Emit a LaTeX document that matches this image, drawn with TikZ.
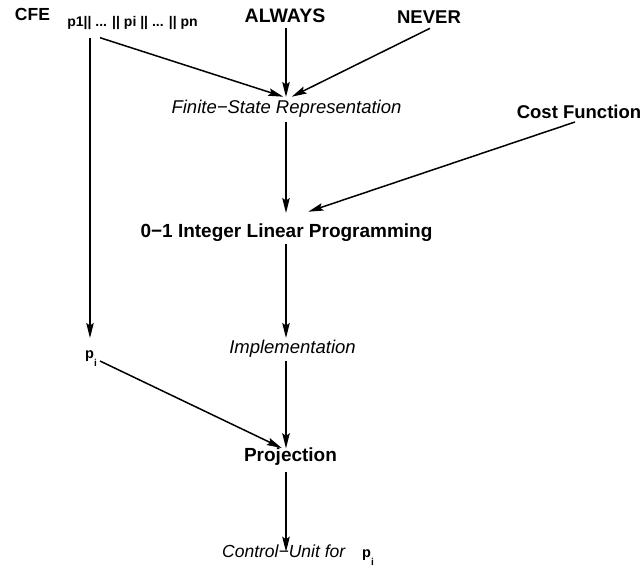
\documentclass[tikz,border=0pt]{standalone}
\usepackage{fontspec}
\setmainfont{Liberation Sans}
\usetikzlibrary{arrows.meta,calc}
\newcommand{\fsz}[1]{\fontsize{#1}{#1}\selectfont}
\newcommand{\subidx}[1]{{\bfseries\fsz{14.5}p\raisebox{-8.5pt}{\fsz{10}#1}}}
\begin{document}
\begin{tikzpicture}[x=1pt,y=-1pt,
  lbl/.style={inner sep=0pt,anchor=base},
  boldlbl/.style={lbl,font=\fsz{19}\bfseries},
  itallbl/.style={lbl,font=\fsz{18.5}\itshape},
  arr/.style={line width=1.5pt,-{Stealth[length=15pt,width=7.5pt,inset=2.5pt]}}]
\useasboundingbox (0,0) rectangle (643,571);
% labels (placed by their baselines)
\node[lbl,font=\fsz{17.5}\bfseries] (cfe) at (32.5,20.7) {CFE};
\node[lbl,font=\fsz{14}\bfseries] (plist) at (132.5,26) {p1|| ... || pi || ... || pn};
\node[boldlbl,font=\fsz{19.5}\bfseries] (always) at (285,22.7) {ALWAYS};
\node[boldlbl,font=\fsz{18.5}\bfseries] (never) at (429,23.3) {NEVER};
\node[itallbl] (fsr) at (286.5,113) {Finite−State Representation};
\node[boldlbl,font=\fsz{18.5}\bfseries] (cost) at (579,118) {Cost Function};
\node[boldlbl] (ilp) at (286.5,237) {0−1 Integer Linear Programming};
\node[lbl] (pi) at (91,358) {\subidx{i}};
\node[itallbl] (impl) at (292.5,353) {Implementation};
\node[boldlbl] (proj) at (290.5,461.7) {Projection};
\node[itallbl,font=\fsz{17.5}\itshape,anchor=base west] (cu) at (222,557)
  {Control−Unit for\hspace{17pt}{\normalfont\subidx{i}}};
% connectors
\draw[arr] ($(plist.base)+(-42.5,12)$) -- ($(pi.base)+(-1,-20)$);
\draw[arr] ($(plist.base)+(-32.5,11.7)$) -- ($(fsr.base)+(-3.2,-16.3)$);
\draw[arr] ($(always.base)+(1,5.3)$) -- ($(fsr.base)+(-0.5,-16)$);
\draw[arr] ($(never.base)+(1,5)$) -- ($(fsr.base)+(5.2,-16.3)$);
\draw[arr] ($(fsr.base)+(-0.5,9)$) -- ($(ilp.base)+(-0.5,-24)$);
\draw[arr] ($(cost.base)+(-4,4)$) -- ($(ilp.base)+(21.8,-25.3)$);
\draw[arr] ($(ilp.base)+(-0.5,7)$) -- ($(impl.base)+(-6.5,-15)$);
\draw[arr] ($(impl.base)+(-6.5,8)$) -- ($(proj.base)+(-4.5,-13.4)$);
\draw[arr] ($(pi.base)+(9,3)$) -- ($(proj.base)+(-8.8,-13.7)$);
\draw[arr] ($(proj.base)+(-4.5,10)$) -- ($(cu.base west)+(64,-5.3)$);
\end{tikzpicture}
\end{document}
